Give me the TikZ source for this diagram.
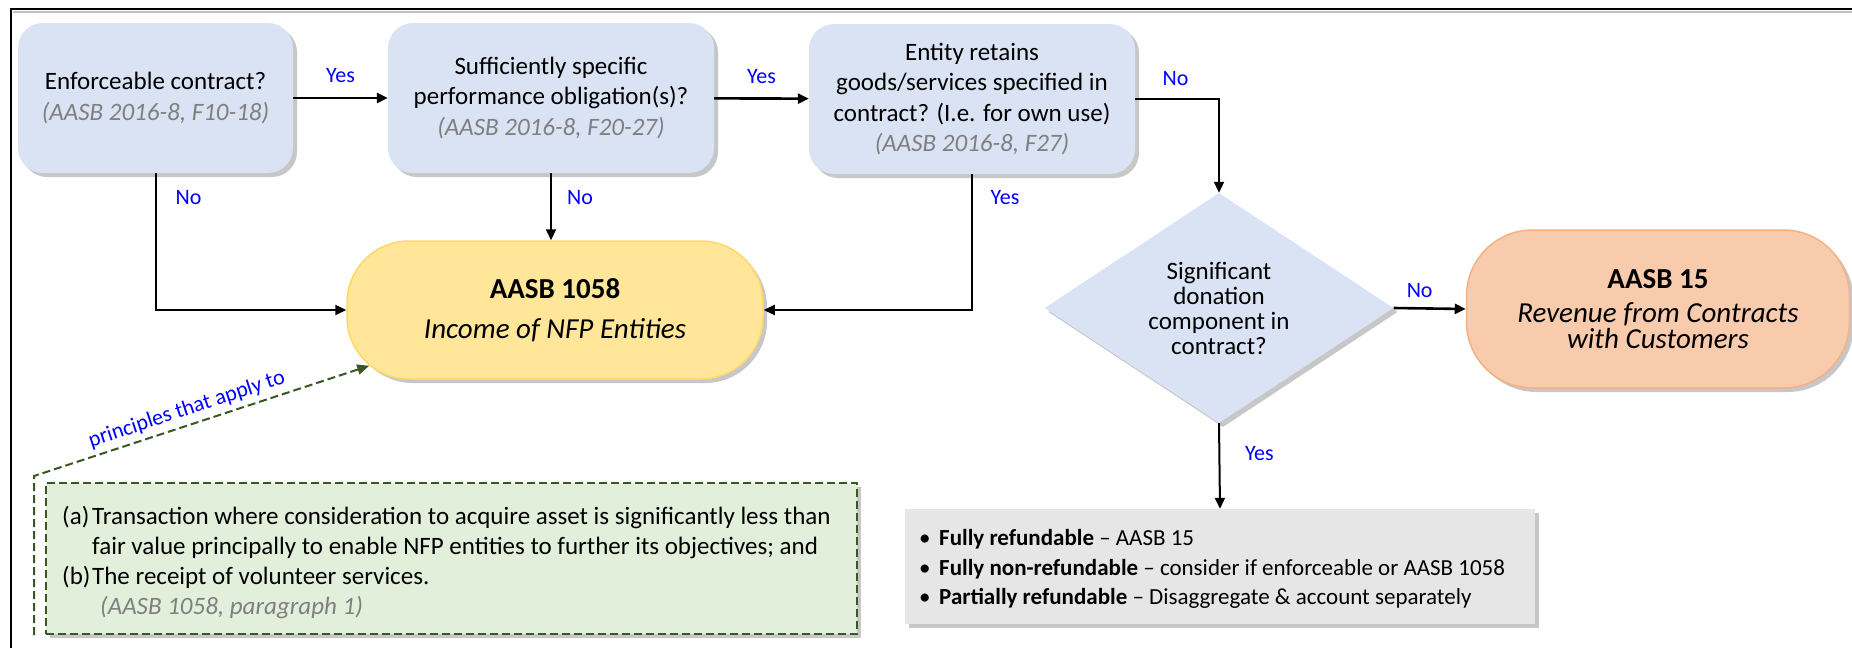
\documentclass[tikz,border=0pt]{standalone}
\usepackage{fontspec}
\setmainfont{Carlito}
\usetikzlibrary{shapes.geometric,arrows.meta,shadows,calc}
\definecolor{qfill}{HTML}{DAE3F3}
\definecolor{yfill}{HTML}{FFE699}
\definecolor{ydraw}{HTML}{FFD966}
\definecolor{ofill}{HTML}{F8CBAD}
\definecolor{odraw}{HTML}{F4B183}
\definecolor{gfill}{HTML}{E2EFDA}
\definecolor{gdraw}{HTML}{385723}
\definecolor{greyfill}{HTML}{E6E6E6}
\definecolor{refgrey}{HTML}{7F7F7F}
\definecolor{lblblue}{HTML}{0000FF}
\begin{document}
\begin{tikzpicture}[x=1pt,y=-1pt,
  shad/.style={drop shadow={shadow xshift=4pt,shadow yshift=-4pt,fill=black,opacity=0.22}},
  qbox/.style={shad,fill=qfill,draw=none,rounded corners=25pt,align=center,inner sep=4pt,
    font=\fontsize{25}{30.5}\selectfont},
  term/.style={shad,line width=1.5pt,align=center,inner sep=4pt},
  arr/.style={line width=2pt,-{Triangle[length=11pt,width=10pt]}},
  harr/.style={line width=2.6pt,-{Triangle[length=11pt,width=10pt]}},
  lbl/.style={text=lblblue,font=\fontsize{22}{26}\selectfont,inner sep=1pt}
]
\useasboundingbox (0,0) rectangle (1852,648);
% frame
\draw[black!25,line width=1.5pt] (13,12) -- (1852,12);
\draw[line width=2.6pt] (11,648) -- (11,9) -- (1852,9);

% question boxes
\node[qbox,minimum width=275pt,minimum height=150pt] (b1) at (155.5,98)
  {Enforceable contract?\\{\color{refgrey}\itshape (AASB 2016-8, F10-18)}};
\node[qbox,minimum width=326pt,minimum height=150pt] (b2) at (551,98)
  {Sufficiently specific\\performance obligation(s)?\\{\color{refgrey}\itshape (AASB 2016-8, F20-27)}};
\node[qbox,minimum width=326pt,minimum height=150pt] (b3) at (972,99)
  {Entity retains\\goods/services specified in\\contract? (I.e. for own use)\\{\color{refgrey}\itshape (AASB 2016-8, F27)}};

% terminals
\node[term,fill=yfill,draw=ydraw,rounded corners=62pt,minimum width=416pt,minimum height=138pt,
  font=\fontsize{29}{35}\selectfont] (a1058) at (555,310)
  {{\bfseries AASB 1058}\\[5pt]{\itshape Income of NFP Entities}};
\node[term,fill=ofill,draw=odraw,rounded corners=66pt,minimum width=383pt,minimum height=158pt,
  font=\fontsize{29}{26}\selectfont] (a15) at (1658,309)
  {{\bfseries AASB 15}\\[8pt]{\itshape Revenue from Contracts}\\{\itshape with Customers}};

% diamond
\node[shad,diamond,fill=qfill,draw=none,shape aspect=1.52,minimum width=349pt,minimum height=230pt,
  inner sep=0pt,align=center,font=\fontsize{25}{25}\selectfont] (dia) at (1219,308)
  {Significant\\donation\\component in\\contract?};

% grey result box
\node[shad,rectangle,fill=greyfill,draw=none,minimum width=630pt,minimum height=115pt] (gyb) at (1220,566.5) {};
\node[anchor=west,align=left,inner sep=0pt,font=\fontsize{23}{29.5}\selectfont] (gyt) at (919,569)
  {\makebox[20pt][l]{\textbullet}\textbf{Fully refundable} – AASB 15\\
   \makebox[20pt][l]{\textbullet}\textbf{Fully non-refundable} – consider if enforceable or AASB 1058\\
   \makebox[20pt][l]{\textbullet}\textbf{Partially refundable} – Disaggregate \& account separately};

% green note box
\node[shad,rectangle,fill=gfill,draw=gdraw,line width=2pt,dash pattern=on 8pt off 4pt,
  minimum width=811pt,minimum height=151pt] (gb) at (451.5,558.5) {};
\node[anchor=west,align=left,inner sep=0pt,font=\fontsize{25}{30}\selectfont] (gt) at (62,562)
  {\makebox[30pt][l]{(a)}Transaction where consideration to acquire asset is significantly less than\\
   \hspace*{30pt}fair value principally to enable NFP entities to further its objectives; and\\
   \makebox[30pt][l]{(b)}The receipt of volunteer services.\\
   \hspace*{38pt}{\color{refgrey}\itshape (AASB 1058, paragraph 1)}};

% connectors
\draw[harr] (b1) -- node[lbl,midway,yshift=22pt]{Yes} (b2);
\draw[harr] (b2) -- node[lbl,midway,yshift=22pt]{Yes} (b3);
\draw[arr] (b1.south) |- node[lbl,pos=0.09,xshift=33pt]{No} (a1058.west);
\draw[arr] (b2.south) -- node[lbl,pos=0.37,xshift=29pt]{No} (b2.south |- a1058.north);
\draw[arr] (b3.south) |- node[lbl,pos=0.085,xshift=33pt]{Yes} (a1058.east);
\draw[arr] (b3.east) -| node[lbl,pos=0.24,yshift=20pt]{No} (dia.north);
\draw[harr] (dia.east) -- node[lbl,pos=0.36,yshift=18pt]{No} (a15.west);
\draw[arr] (dia.south) -- node[lbl,pos=0.35,xshift=40pt]{Yes} (gyb.north);
\draw[gdraw,line width=2pt,dash pattern=on 8pt off 4pt,-{Triangle[length=12pt,width=10pt]}]
  ([xshift=-11pt]gb.south west) -- ++(0,-159)
  -- node[sloped,above=4pt,pos=0.47,lbl]{principles that apply to}
  ([xshift=23pt,yshift=14pt]a1058.south west);
\end{tikzpicture}
\end{document}
